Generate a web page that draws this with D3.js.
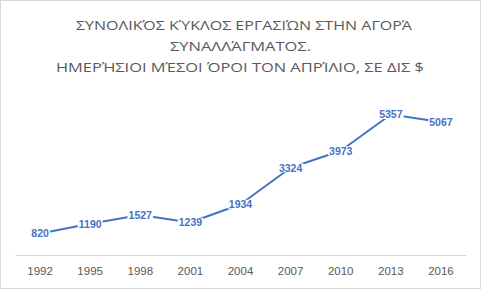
<!DOCTYPE html>
<html>
<head>
<meta charset="utf-8">
<script src="https://cdn.jsdelivr.net/npm/d3@7"></script>
<style>
    body { margin: 0; background: #fff; }
    svg { display: block; }
</style>
</head>
<body>
<svg width="481" height="289"></svg>
<script>
const titleLines = [
    "ΣΥΝΟΛΙΚΌΣ ΚΎΚΛΟΣ ΕΡΓΑΣΙΏΝ ΣΤΗΝ ΑΓΟΡΆ",
    "ΣΥΝΑΛΛΆΓΜΑΤΟΣ.",
    "ΗΜΕΡΉΣΙΟΙ ΜΈΣΟΙ ΌΡΟΙ ΤΟΝ ΑΠΡΊΛΙΟ, ΣΕ ΔΙΣ $"
];
const years = ["1992", "1995", "1998", "2001", "2004", "2007", "2010", "2013", "2016"];
const turnover = [820, 1190, 1527, 1239, 1934, 3324, 3973, 5357, 5067];

const width = 481;
const height = 289;
const blue = "#4472C4";

// where each title line starts and how wide it is in the original
const titleStart = [76, 170, 56];
const titleWidth = [336, 141, 368];

const svg = d3.select("svg");

// chart border
svg.append("rect")
    .attr("x", 0.5).attr("y", 0.5)
    .attr("width", width - 1).attr("height", height - 1)
    .attr("fill", "#fff")
    .attr("stroke", "#d9d9d9");

// title
svg.append("g")
    .selectAll("text")
    .data(titleLines)
    .enter().append("text")
    .attr("x", (d, i) => titleStart[i])
    .attr("y", (d, i) => 29.5 + i * 21.1)
    .attr("font-family", "'Open Sans', 'Noto Sans', sans-serif")
    .attr("font-size", 13.5)
    .attr("fill", "#595959")
    .attr("textLength", (d, i) => titleWidth[i])
    .attr("lengthAdjust", "spacingAndGlyphs")
    .text(d => d);

const x = d3.scaleBand()
    .domain(years)
    .range([15, 466]);

const y = d3.scaleLinear()
    .domain([0, 6000])
    .range([255, 97.6]);

// x axis
const xAxis = svg.append("g")
    .attr("transform", "translate(0,255)")
    .call(d3.axisBottom(x).tickSize(0).tickPadding(12));
xAxis.select(".domain").attr("stroke", "#d9d9d9").attr("stroke-width", 1.2);
xAxis.selectAll("text")
    .attr("font-family", "'Liberation Sans', Arial, sans-serif")
    .attr("font-size", 11.5)
    .attr("fill", "#595959");

// line
const line = d3.line()
    .x((d, i) => x(years[i]) + x.bandwidth() / 2)
    .y(d => y(d));

svg.append("path")
    .datum(turnover)
    .attr("fill", "none")
    .attr("stroke", blue)
    .attr("stroke-width", 2)
    .attr("stroke-linejoin", "round")
    .attr("d", line);

// data labels on white boxes
const labels = svg.append("g")
    .selectAll("g")
    .data(turnover)
    .enter().append("g")
    .attr("transform", (d, i) => `translate(${x(years[i]) + x.bandwidth() / 2},${y(d)})`);

labels.append("rect")
    .attr("fill", "#fff");

labels.append("text")
    .attr("text-anchor", "middle")
    .attr("dy", "0.36em")
    .attr("font-family", "'Liberation Sans', Arial, sans-serif")
    .attr("font-weight", "bold")
    .attr("font-size", 10.5)
    .attr("fill", blue)
    .text(d => d);

labels.each(function() {
    const g = d3.select(this);
    const b = g.select("text").node().getBBox();
    g.select("rect")
        .attr("x", b.x - 1)
        .attr("y", -4.5)
        .attr("width", b.width + 2)
        .attr("height", 9);
});
</script>
</body>
</html>
